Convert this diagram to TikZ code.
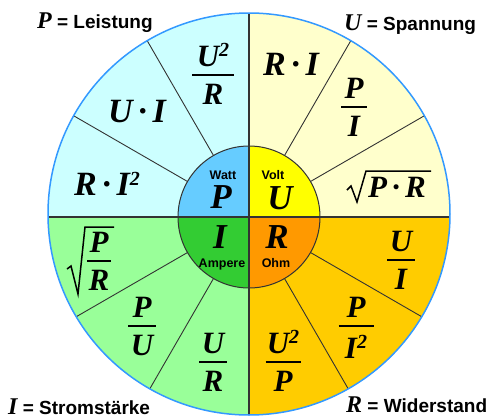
\documentclass[tikz,border=0pt]{standalone}
\usepackage{fontspec}
\setmainfont{Liberation Sans}
\newfontfamily\fserif{Liberation Serif}
\usetikzlibrary{calc}
\definecolor{qPcol}{HTML}{CCFFFF}
\definecolor{qUcol}{HTML}{FFFFCC}
\definecolor{qIcol}{HTML}{99FF99}
\definecolor{qRcol}{HTML}{FFCC00}
\definecolor{iPcol}{HTML}{66CCFF}
\definecolor{iUcol}{HTML}{FFFF00}
\definecolor{iIcol}{HTML}{33CC33}
\definecolor{iRcol}{HTML}{FF9900}
\definecolor{rimcol}{HTML}{3399FF}
\definecolor{linecol}{HTML}{333333}
\newcommand\sqr{\raisebox{10pt}{\fontsize{20}{20}\selectfont 2}}
\newcommand\fracat[6]{%
  \node[formula, anchor=base] (#1-num) at (#2,#3-9) {#5};
  \node[formula, anchor=north] (#1-den) at (#2,#3+9) {#6};
  \draw[fbar] (#2-#4,#3) -- (#2+#4,#3);
}
\tikzset{
  formula/.style={font=\fontsize{31}{31}\selectfont\fserif\bfseries\itshape, inner sep=0pt},
  product/.style={font=\fontsize{34}{34}\selectfont\fserif\bfseries\itshape, inner sep=0pt, anchor=base},
  bigletter/.style={font=\fontsize{35}{35}\selectfont\fserif\bfseries\itshape, inner sep=0pt, anchor=base},
  unitlabel/.style={font=\fontsize{12.5}{12.5}\selectfont\bfseries, inner sep=0pt, anchor=base},
  cornerlabel/.style={font=\fontsize{19}{19}\selectfont\bfseries, inner sep=0pt, anchor=base west},
  fbar/.style={line width=2pt, black},
  divider/.style={line width=0.9pt, linecol},
  crossline/.style={line width=1.4pt, linecol},
  radical/.style={line width=1.5pt, black, line join=miter},
}
\begin{document}
\begin{tikzpicture}[x=1pt,y=-1pt]
\useasboundingbox (0,0) rectangle (488,418);
\fill[white] (0,0) rectangle (488,418);
\coordinate (c) at (249,217);
\coordinate (oc) at (249,214);
% outer quadrants
\begin{scope}
  \clip (oc) circle (201pt);
  \fill[qPcol] (0,0) rectangle (249,217);
  \fill[qUcol] (249,0) rectangle (488,217);
  \fill[qIcol] (0,217) rectangle (249,418);
  \fill[qRcol] (249,217) rectangle (488,418);
  \foreach \a in {30,60,120,150,210,240,300,330}
    \draw[divider] ($(c)+(\a:71)$) -- ($(c)+(\a:215)$);
  \draw[crossline] (30,217) -- (470,217);
  \draw[crossline] (249,0) -- (249,418);
\end{scope}
% inner circle
\begin{scope}
  \clip (c) circle (71pt);
  \fill[iPcol] (170,140) rectangle (249,217);
  \fill[iUcol] (249,140) rectangle (330,217);
  \fill[iIcol] (170,217) rectangle (249,300);
  \fill[iRcol] (249,217) rectangle (330,300);
\end{scope}
\draw[crossline] (170,217) -- (330,217);
\draw[crossline] (249,140) -- (249,300);
\draw[line width=1pt, linecol] (c) circle (71pt);
\draw[line width=1.5pt, rimcol] (oc) circle (201pt);
% centre
\node[unitlabel] (watt) at (223,179) {Watt};
\node[bigletter] (cP) at (221,208) {P};
\node[unitlabel] (volt) at (273,179) {Volt};
\node[bigletter] (cU) at (280,209) {U};
\node[bigletter] (cI) at (220,248) {I};
\node[unitlabel] (amp) at (222,267) {Ampere};
\node[bigletter] (cR) at (277,248) {R};
\node[unitlabel] (ohm) at (276,267) {Ohm};
% P quadrant
\fracat{pa}{213}{75}{21}{U\sqr}{R}
\node[product] (pb) at (137,122) {U\,·\,I};
\node[product] (pc) at (107,195) {R\,·\,I\sqr};
% U quadrant
\node[product] (ua) at (291,75) {R\,·\,I};
\fracat{ub}{354}{107}{13}{P}{I}
\node[formula, anchor=base] (uc) at (397,197) {P\,·\,R};
\draw[radical] (347,190) -- (351,186) -- (357,202) -- (366,171) -- (431,171);
% I quadrant
\fracat{ia}{99}{261}{12}{P}{R}
\draw[radical] (67,269) -- (71,266) -- (78,294) -- (85,227) -- (114,227);
\fracat{ib}{142}{326}{14}{P}{U}
\fracat{ic}{213}{362}{14}{U}{R}
% R quadrant
\fracat{ra}{401}{260}{14}{U}{I}
\fracat{rb}{356}{326}{17.5}{P}{I\sqr}
\fracat{rc}{283}{362}{17.5}{U\sqr}{P}
% corner labels
\node[cornerlabel] (lP) at (37,28) {{\fontsize{24}{24}\selectfont\fserif\itshape P} = Leistung};
\node[cornerlabel] (lU) at (344,30) {{\fontsize{24}{24}\selectfont\fserif\itshape U} = Spannung};
\node[cornerlabel] (lI) at (8,414) {{\fontsize{24}{24}\selectfont\fserif\itshape I} = Stromstärke};
\node[cornerlabel] (lR) at (346,412) {{\fontsize{24}{24}\selectfont\fserif\itshape R} = Widerstand};
\end{tikzpicture}
\end{document}
